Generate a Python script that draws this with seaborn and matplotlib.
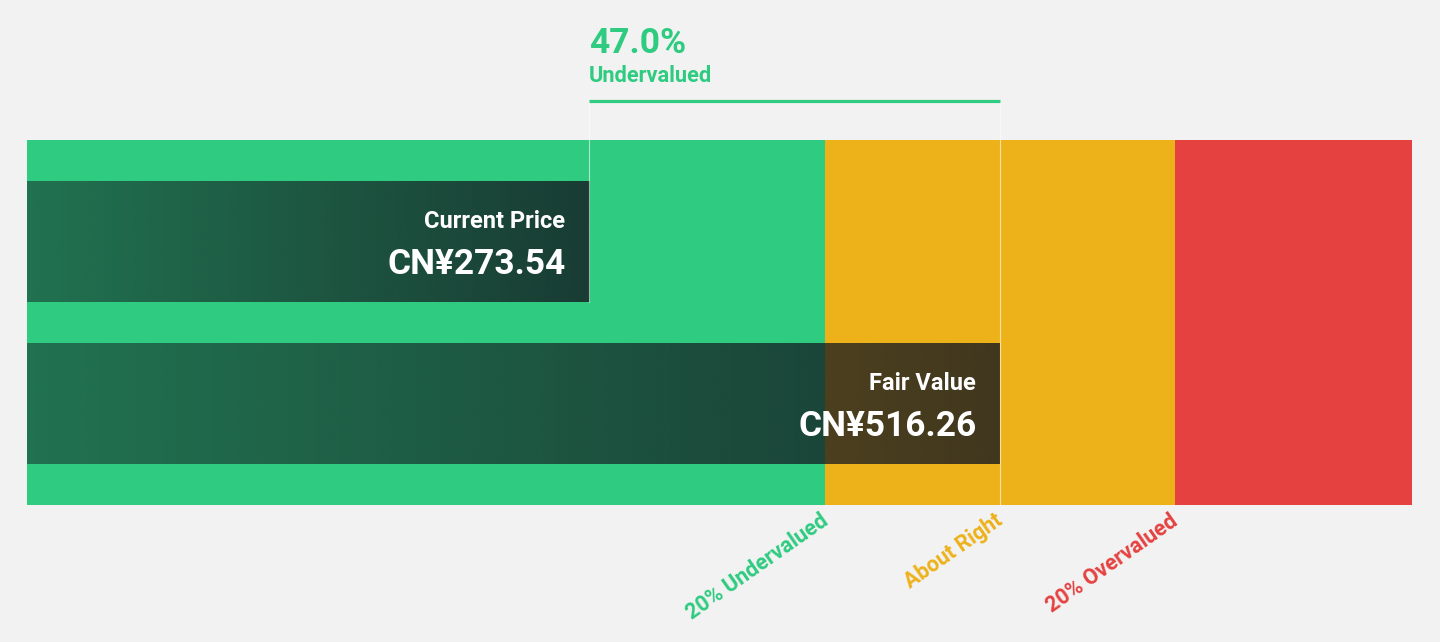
import numpy as np
import pandas as pd
import seaborn as sns
import matplotlib.pyplot as plt
from matplotlib.colors import to_rgb

# dados do gráfico
labels = ["Current Price", "Fair Value"]
values = [273.54, 516.26]
value_texts = ["CN¥273.54", "CN¥516.26"]
zone_names = ["20% Undervalued", "About Right", "20% Overvalued"]
zone_factors = [0.8, 1.0, 1.2]

# cores
bg = "#F2F2F2"
green = "#2ECB80"
yellow = "#EDB21A"
red = "#E54141"

sns.set_theme(style="white")
plt.rcParams['font.family'] = ['Roboto', 'DejaVu Sans']

current, fair = values
x0, x1 = -58.4, 759.6          # limites do eixo
y_top, y_bot = -0.627, 1.627    # limites verticais (invertidos)

fig = plt.figure(figsize=(14.4, 6.42), dpi=100, facecolor=bg)
ax = fig.add_axes([27 / 1440, 137 / 642, 1385 / 1440, 365 / 642])
ax.set_facecolor(bg)

df = pd.DataFrame({"label": labels, "value": values})
sns.barplot(data=df, x="value", y="label", orient="h", width=0.747,
            facecolor="none", edgecolor="none", ax=ax)
bars = list(ax.patches)

# faixas de avaliação
ax.axvspan(x0, zone_factors[0] * fair, color=green, lw=0, zorder=0)
ax.axvspan(zone_factors[0] * fair, zone_factors[2] * fair, color=yellow, lw=0, zorder=0)
ax.axvspan(zone_factors[2] * fair, x1, color=red, lw=0, zorder=0)

# barras começam na borda esquerda, com gradiente escuro semi-transparente
dark = to_rgb("#141820")
grad = np.zeros((1, 256, 4))
grad[..., 0], grad[..., 1], grad[..., 2] = dark
grad[..., 3] = np.linspace(0.5, 0.8, 256)
for p, v in zip(bars, values):
    p.set_x(x0)
    p.set_width(v - x0)
    y, h = p.get_y(), p.get_height()
    ax.imshow(grad, extent=(x0, v, y + h, y), aspect="auto", zorder=2,
              interpolation="bicubic")

for i, (lab, txt, v) in enumerate(zip(labels, value_texts, values)):
    ax.annotate(lab, (v, i), xytext=(-17.5, 10), textcoords="offset points",
                ha="right", va="baseline", color="white", fontsize=17,
                fontweight="bold", zorder=4)
    ax.annotate(txt, (v, i), xytext=(-16.5, -23.5), textcoords="offset points",
                ha="right", va="baseline", color="white", fontsize=25.4,
                fontweight="bold", zorder=4)

# colchete de diferença
y_br = y_top - 0.24
half = 0.747 / 2
ax.plot([current, current], [half, y_br], color="white", alpha=0.6, lw=0.8,
        clip_on=False, zorder=3)
ax.plot([fair, fair], [y_bot, y_br], color="white", alpha=0.6, lw=0.8,
        clip_on=False, zorder=3)
ax.plot([current, fair], [y_br, y_br], color=green, lw=2.3, clip_on=False,
        solid_capstyle="butt", zorder=3)
pct = (1 - current / fair) * 100
ax.annotate(f"{pct:.1f}%", (current, y_br), xytext=(0, 34.5),
            textcoords="offset points", ha="left", va="baseline",
            color=green, fontsize=25.5, fontweight="bold", annotation_clip=False)
ax.annotate("Undervalued", (current, y_br), xytext=(0, 13.7),
            textcoords="offset points", ha="left", va="baseline",
            color=green, fontsize=15.7, fontweight="bold", annotation_clip=False)

# rótulos das zonas
for name, f, c in zip(zone_names, zone_factors, [green, yellow, red]):
    ax.annotate(name, (f * fair, y_bot), xytext=(-4, -3.5),
                textcoords="offset points", ha="right", va="top",
                rotation=35, rotation_mode="anchor", color=c, fontsize=15.5,
                fontweight="bold", annotation_clip=False)

ax.set_xlim(x0, x1)
ax.set_ylim(y_bot, y_top)
ax.set_xlabel("")
ax.set_ylabel("")
ax.set_xticks([])
ax.set_yticks([])
sns.despine(ax=ax, left=True, bottom=True)

fig.savefig("out.png", dpi=100, facecolor=bg)
